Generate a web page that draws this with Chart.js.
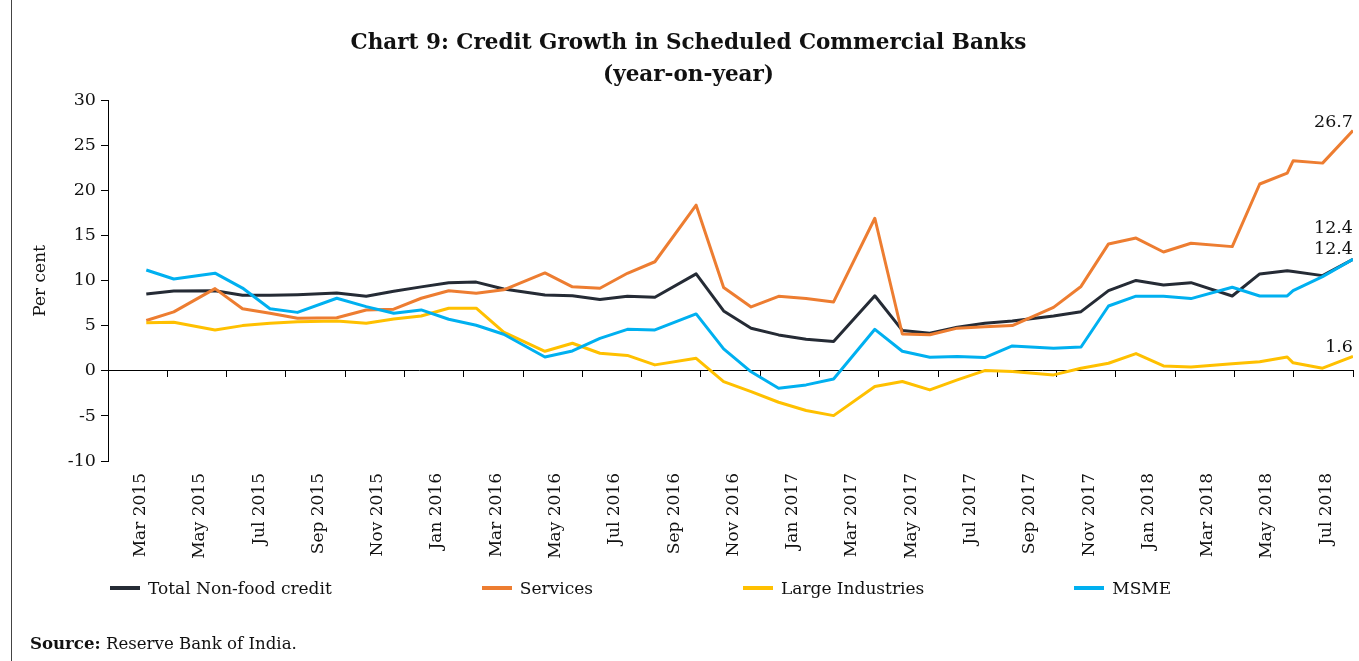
<!DOCTYPE html>
<html><head><meta charset="utf-8">
<script src="https://cdn.jsdelivr.net/npm/chart.js@4.4.1/dist/chart.umd.min.js"></script>
<style>
html,body{margin:0;padding:0;background:#fff;}
#wrap{position:relative;width:1359px;height:661px;overflow:hidden;background:#fff;}
#frame{position:absolute;left:11px;top:0;width:1px;height:661px;background:#444;}
canvas{position:absolute;left:0;top:0;}
#legend{position:absolute;left:110px;top:578px;display:flex;align-items:center;font-family:'DejaVu Serif';font-size:17px;color:#111;white-space:nowrap;line-height:20px;}
.item{display:flex;align-items:center;margin-right:150px;}
.sw{width:30px;height:4px;margin-right:8px;}
#source{position:absolute;left:30px;top:633px;font-family:'DejaVu Serif';font-size:16.6px;color:#111;line-height:20px;}
</style></head><body>
<div id="wrap">
<canvas id="c" width="1359" height="661"></canvas>
<div id="frame"></div>
<div id="legend"></div>
<div id="source"><b>Source:</b> Reserve Bank of India.</div>
</div>
<script>
// ---------------- data ----------------
const dates = [
 '2015-03-20','2015-04-17','2015-05-29','2015-06-26','2015-07-24','2015-08-21','2015-09-30','2015-10-30','2015-11-27','2015-12-25',
 '2016-01-22','2016-02-19','2016-03-18','2016-04-29','2016-05-27','2016-06-24','2016-07-22','2016-08-19','2016-09-30','2016-10-28',
 '2016-11-25','2016-12-23','2017-01-20','2017-02-17','2017-03-31','2017-04-28','2017-05-26','2017-06-23','2017-07-21','2017-08-18',
 '2017-09-29','2017-10-27','2017-11-24','2017-12-22','2018-01-19','2018-02-16','2018-03-30','2018-04-27','2018-05-25','2018-05-31',
 '2018-06-30','2018-07-31'];
const totalNonFoodCredit = [
 8.55,8.88,8.9,8.4,8.4,8.47,8.66,8.3,8.85,9.33,
 9.8,9.86,9.1,8.43,8.34,7.92,8.28,8.18,10.77,6.66,
 4.74,4.0,3.52,3.26,8.34,4.5,4.18,4.85,5.29,5.55,
 6.1,6.58,8.91,10.05,9.54,9.8,8.32,10.77,11.13,11.05,
 10.58,12.4];
const services = [
 5.6,6.55,9.14,6.9,6.4,5.85,5.9,6.77,6.85,8.07,
 8.9,8.62,9.0,10.88,9.34,9.18,10.84,12.12,18.4,9.27,
 7.1,8.28,8.05,7.66,16.95,4.1,4.02,4.75,4.9,5.03,
 7.05,9.38,14.1,14.75,13.2,14.17,13.8,20.75,21.95,23.33,
 23.07,26.7];
const largeIndustries = [
 5.36,5.4,4.55,5.03,5.3,5.47,5.55,5.3,5.77,6.1,
 6.96,6.96,4.3,2.18,3.07,1.96,1.72,0.67,1.4,-1.18,
 -2.29,-3.48,-4.4,-4.96,-1.74,-1.18,-2.11,-1.0,0.04,-0.07,
 -0.44,0.3,0.85,1.93,0.55,0.44,0.8,1.03,1.55,0.9,
 0.3,1.6];
const msme = [
 11.2,10.2,10.85,9.2,6.9,6.5,8.07,7.14,6.4,6.77,
 5.74,5.07,4.07,1.55,2.22,3.62,4.62,4.55,6.33,2.45,
 -0.1,-1.92,-1.55,-0.89,4.62,2.18,1.52,1.59,1.48,2.77,
 2.51,2.66,7.21,8.3,8.3,8.03,9.29,8.32,8.32,8.91,
 10.47,12.4];
const seriesNames = ['Total Non-food credit','Services','Large Industries','MSME'];
const tickLabels = ['Mar 2015','May 2015','Jul 2015','Sep 2015','Nov 2015','Jan 2016','Mar 2016','May 2016','Jul 2016','Sep 2016','Nov 2016',
 'Jan 2017','Mar 2017','May 2017','Jul 2017','Sep 2017','Nov 2017','Jan 2018','Mar 2018','May 2018','Jul 2018'];
const axisStartDate = '2015-02-09';
const axisEndDate = '2018-07-31';

// ---------------- helpers ----------------
const FONT = 'DejaVu Serif';
const dayNum = d => (Date.parse(d + 'T00:00:00Z') - Date.parse(dates[0] + 'T00:00:00Z')) / 864e5;
const X_MIN = dayNum(axisStartDate), X_MAX = dayNum(axisEndDate);
const step = (X_MAX - X_MIN) / tickLabels.length;
const tickVals = Array.from({length: tickLabels.length + 1}, (_, k) => X_MIN + k * step);
const labelVals = tickLabels.map((_, k) => X_MIN + (k + 0.5) * step);
const pts = arr => arr.map((v, i) => ({x: dayNum(dates[i]), y: v}));

const colors = ['#252B35', '#ED7D31', '#FFC000', '#00B0F0'];
const lifts = [26, 3, 5, 5];
const series = [totalNonFoodCredit, services, largeIndustries, msme];

const datasets = series.map((s, i) => ({
  label: seriesNames[i], data: pts(s), borderColor: colors[i], backgroundColor: colors[i],
  borderWidth: 3, pointRadius: 0, tension: 0, borderJoinStyle: 'round', order: 4 - i,
  xAxisID: 'x', yAxisID: 'y', labelLift: lifts[i]
}));

const endLabels = {
  id: 'endLabels',
  afterDatasetsDraw(chart) {
    const ctx = chart.ctx;
    chart.data.datasets.forEach((ds, i) => {
      const meta = chart.getDatasetMeta(i);
      const p = meta.data[meta.data.length - 1];
      ctx.save();
      ctx.font = '17.5px "' + FONT + '"';
      ctx.fillStyle = '#111';
      ctx.textAlign = 'right';
      ctx.textBaseline = 'alphabetic';
      ctx.fillText(ds.data[ds.data.length - 1].y.toFixed(1), p.x, p.y - ds.labelLift);
      ctx.restore();
    });
  }
};

const chart = new Chart(document.getElementById('c'), {
  type: 'line',
  data: {datasets},
  plugins: [endLabels],
  options: {
    responsive: false, animation: false, devicePixelRatio: 1,
    layout: {padding: {left: 24, right: 6, top: 0, bottom: 100}},
    plugins: {
      legend: {display: false}, tooltip: {enabled: false},
      title: {display: true, text: ['Chart 9: Credit Growth in Scheduled Commercial Banks', '(year-on-year)'],
        color: '#111', font: {family: FONT, size: 21.5, weight: 'bold', lineHeight: '32px'}, padding: {top: 27, bottom: 9.7}}
    },
    scales: {
      x: {
        type: 'linear', position: {y: 0}, min: X_MIN, max: X_MAX,
        afterBuildTicks: s => { s.ticks = tickVals.map(v => ({value: v})); },
        ticks: {display: false},
        grid: {display: true, drawOnChartArea: false, drawTicks: true, tickLength: 6, color: '#000', lineWidth: 1},
        border: {display: true, color: '#000', width: 1}
      },
      xLab: {
        type: 'linear', position: 'bottom', min: X_MIN, max: X_MAX,
        afterBuildTicks: s => { s.ticks = labelVals.map(v => ({value: v})); },
        ticks: {autoSkip: false, minRotation: 90, maxRotation: 90, padding: 4, labelOffset: 3, color: '#111',
          font: {family: FONT, size: 17}, callback: (v, i) => tickLabels[i]},
        grid: {display: false}, border: {display: false},
        afterFit: s => { s.height = 100; }
      },
      y: {
        min: -10, max: 30,
        ticks: {stepSize: 5, color: '#111', padding: 5, font: {family: FONT, size: 17.5}},
        grid: {display: true, drawOnChartArea: false, tickLength: 7, color: '#000'},
        border: {display: true, color: '#000', width: 1},
        title: {display: true, text: 'Per cent', color: '#111', font: {family: FONT, size: 17}, padding: {top: 6, bottom: 0}},
        afterFit: s => { s.width = 84; }
      }
    }
  }
});

// HTML legend built from the chart's datasets
const lg = document.getElementById('legend');
chart.data.datasets.forEach(ds => {
  const it = document.createElement('div'); it.className = 'item';
  const sw = document.createElement('span'); sw.className = 'sw'; sw.style.background = ds.borderColor;
  const tx = document.createElement('span'); tx.textContent = ds.label;
  it.appendChild(sw); it.appendChild(tx); lg.appendChild(it);
});
</script>
</body></html>
